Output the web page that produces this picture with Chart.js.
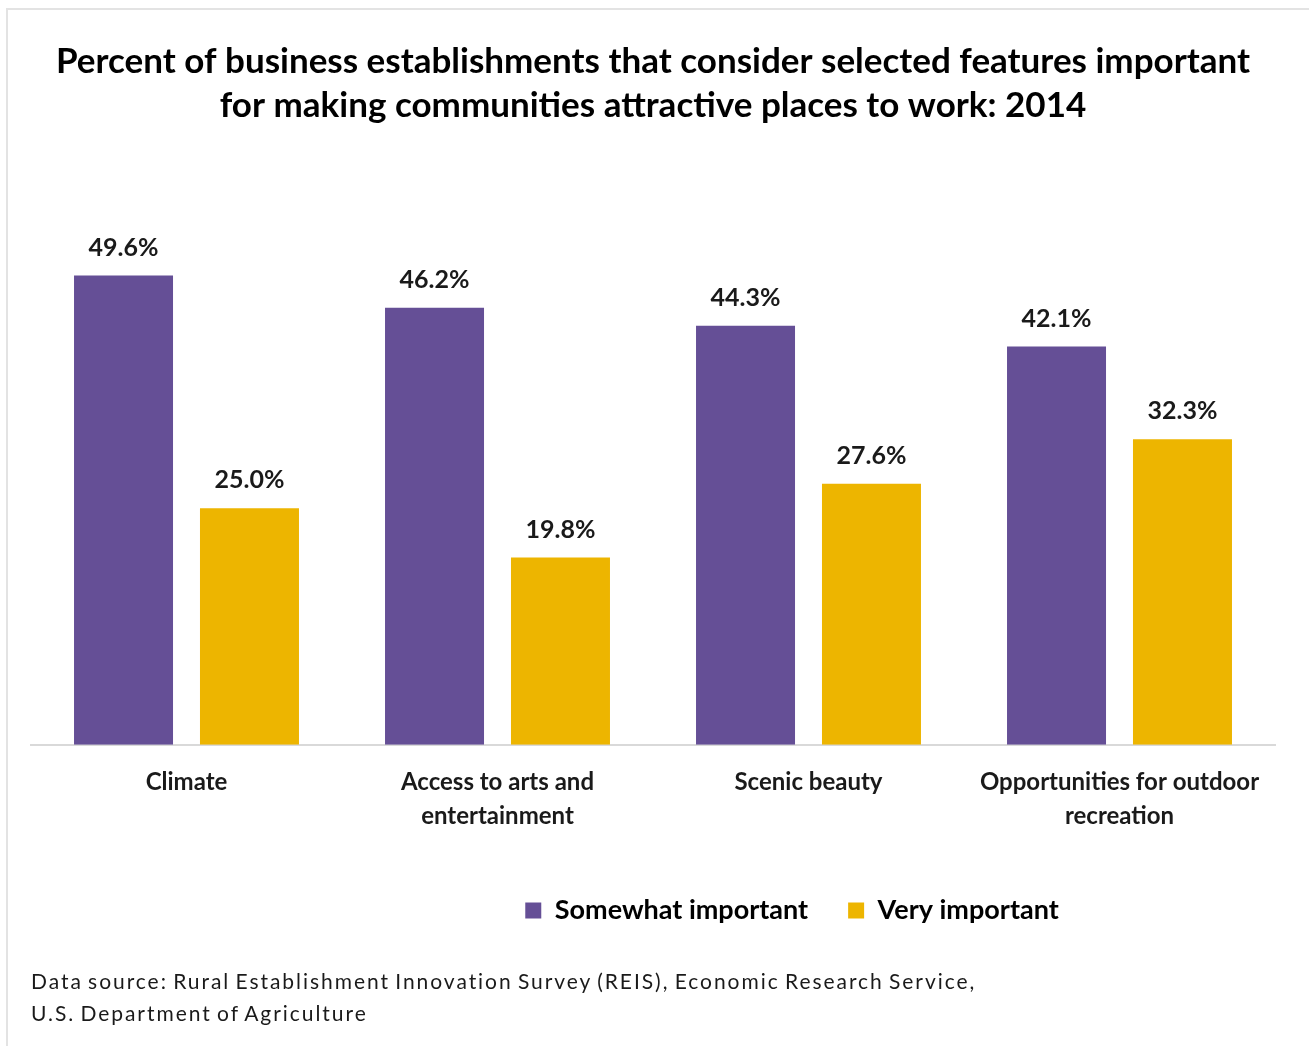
<!DOCTYPE html>
<html>
<head>
<meta charset="utf-8">
<script src="https://cdn.jsdelivr.net/npm/chart.js@4"></script>
<style>
  body { margin:0; background:#fff; }
  #wrap { position:relative; width:1309px; height:1046px; overflow:hidden; }
  #frame { position:absolute; left:6px; top:8px; width:1400px; height:1100px; border-left:2px solid #e3e3e3; border-top:2px solid #e3e3e3; box-sizing:border-box; }
  #grafica { position:absolute; left:0; top:0; }
  #fuente { position:absolute; left:31px; top:965px; font-family:Lato, sans-serif; font-size:21px; line-height:32px; color:#1a1a1a; letter-spacing:1.95px; word-spacing:-2px; }
</style>
</head>
<body>
<div id="wrap">
  <div id="frame"></div>
  <canvas id="grafica" width="1309" height="1046"></canvas>
  <div id="fuente">Data source: Rural Establishment Innovation Survey (REIS), Economic Research Service,<br>U.S. Department of Agriculture</div>
</div>
<script>
var categorias = ['Climate', ['Access to arts and','entertainment'], 'Scenic beauty', ['Opportunities for outdoor','recreation']];
var algoImportante = [49.6, 46.2, 44.3, 42.1];
var muyImportante = [25.0, 19.8, 27.6, 32.3];

var fuente = 'Lato, sans-serif';

var etiquetas = {
  id: 'etiquetas',
  afterDatasetsDraw: function(chart){
    var ctx = chart.ctx;
    ctx.save();
    ctx.font = 'bold 25px ' + fuente;
    ctx.fillStyle = '#1a1a1a';
    ctx.textAlign = 'center';
    ctx.textBaseline = 'middle';
    chart.data.datasets.forEach(function(ds, i){
      var meta = chart.getDatasetMeta(i);
      meta.data.forEach(function(bar, j){
        ctx.fillText(ds.data[j].toFixed(1) + '%', bar.x, bar.y - 28);
      });
    });
    ctx.restore();
  }
};

// la leyenda del original esta corrida a la derecha
var moverLeyenda = {
  id: 'moverLeyenda',
  afterLayout: function(chart){
    chart.legend.left += 139;
    chart.legend.right += 139;
  }
};

var ctx = document.getElementById('grafica').getContext('2d');
var myChart = new Chart(ctx, {
  type: 'bar',
  data: {
    labels: categorias,
    datasets: [{
      label: 'Somewhat important',
      data: algoImportante,
      backgroundColor: '#654F96'
    },{
      label: 'Very important',
      data: muyImportante,
      backgroundColor: '#EDB500'
    }]
  },
  options: {
    responsive: false,
    animation: false,
    categoryPercentage: 0.81,
    barPercentage: 0.786,
    layout: { padding: { left: 31, right: 34, top: 0, bottom: 112 } },
    scales: {
      y: { display: false, min: 0, max: 60 },
      x: {
        grid: { display: false },
        border: { display: true, color: '#d9d9d9', width: 2 },
        ticks: {
          color: '#1a1a1a',
          padding: 12,
          maxRotation: 0,
          autoSkip: false,
          font: { family: fuente, size: 24, weight: 'bold', lineHeight: 1.42 }
        }
      }
    },
    plugins: {
      tooltip: { enabled: false },
      title: {
        display: true,
        text: ['Percent of business establishments that consider selected features important','for making communities attractive places to work: 2014'],
        color: '#000',
        padding: { top: 40, bottom: 49 },
        font: { family: fuente, size: 35, weight: 'bold', lineHeight: 1.26 }
      },
      legend: {
        position: 'bottom',
        title: { display: true, text: '', font: { size: 10, lineHeight: 1 }, padding: { top: 2, bottom: 0 } },
        labels: {
          boxWidth: 16,
          boxHeight: 16,
          padding: 40,
          color: '#000',
          font: { family: fuente, size: 27, weight: 'bold' }
        }
      }
    }
  },
  plugins: [etiquetas, moverLeyenda]
});
</script>
</body>
</html>
